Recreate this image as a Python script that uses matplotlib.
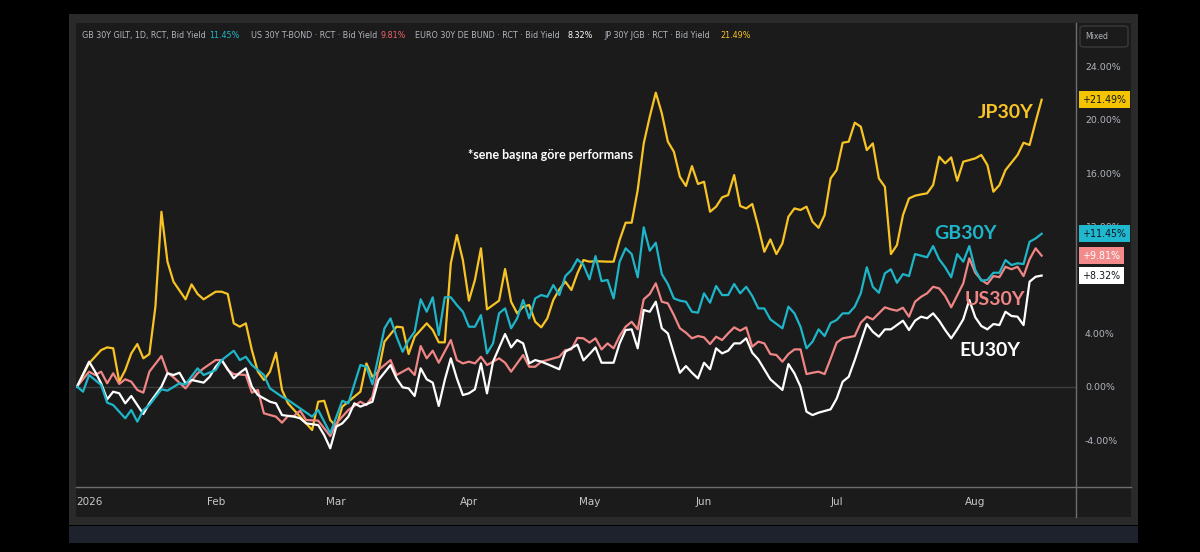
import matplotlib
matplotlib.use("Agg")
import matplotlib.pyplot as plt
import matplotlib.transforms as mtransforms
from matplotlib.patches import Rectangle, FancyBboxPatch
from matplotlib.lines import Line2D
from matplotlib import font_manager
import pandas as pd

# ---------------- data (trading-session number, % change since start) ----------------
HOLIDAYS = ['2026-01-01', '2026-04-03', '2026-04-06', '2026-05-04', '2026-05-25']
START, END = '2025-12-30', '2026-08-18'
MONTH_LABELS = ['2026', 'Feb', 'Mar', 'Apr', 'May', 'Jun', 'Jul', 'Aug']
Y_TICKS = [-4, 0, 4, 8, 12, 16, 20, 24]

JP30Y = [(0, 0.0), (2, 1.75), (4, 2.74), (5, 2.94), (6, 2.87), (7, 0.37), (8, 1.24), (9, 2.49), (10, 3.19),
         (11, 2.12), (12, 2.44), (13, 5.99), (14, 13.1), (15, 9.36), (16, 7.86), (18, 6.54), (19, 7.66),
         (20, 6.94), (21, 6.54), (23, 7.11), (24, 7.11), (25, 6.94), (26, 4.74), (27, 4.49), (28, 4.74),
         (29, 2.74), (30, 1.12), (31, 0.5), (32, 1.12), (33, 2.54), (34, -0.25), (35, -1.25), (37, -2.25),
         (38, -2.75), (39, -3.25), (40, -1.13), (41, -1.06), (42, -2.5), (43, -3.0), (44, -1.5), (46, -0.75),
         (47, -0.38), (48, 1.74), (49, 0.74), (50, 1.12), (51, 3.37), (53, 4.49), (54, 4.44), (55, 2.44),
         (56, 3.74), (58, 4.74), (59, 4.24), (60, 3.32), (61, 3.32), (62, 9.24), (63, 11.36), (64, 9.48),
         (65, 6.44), (66, 7.99), (67, 10.36), (68, 5.79), (69, 6.11), (70, 6.44), (71, 8.81), (72, 6.36),
         (73, 5.49), (74, 5.99), (75, 6.11), (76, 4.86), (77, 4.44), (78, 5.11), (79, 6.49), (80, 7.29),
         (81, 7.86), (82, 7.24), (83, 8.49), (84, 9.48), (85, 9.36), (86, 9.4), (88, 9.36), (89, 9.36),
         (90, 10.98), (91, 12.28), (92, 12.28), (93, 14.73), (94, 18.22), (95, 20.22), (96, 22.02),
         (97, 20.47), (98, 18.35), (99, 17.6), (100, 15.72), (101, 15.03), (102, 16.52), (103, 15.18),
         (104, 15.35), (105, 13.1), (106, 13.48), (107, 14.18), (108, 14.35), (109, 15.85), (110, 13.53),
         (111, 13.35), (112, 13.68), (113, 11.98), (114, 10.1), (115, 11.03), (116, 9.93), (117, 10.73),
         (118, 12.73), (119, 13.35), (120, 13.23), (121, 13.48), (122, 12.35), (123, 11.9), (124, 12.85),
         (125, 15.6), (126, 16.22), (127, 18.27), (128, 18.35), (129, 19.77), (130, 19.47), (131, 17.72),
         (132, 18.22), (133, 15.6), (134, 14.97), (135, 9.93), (136, 10.6), (137, 12.85), (138, 14.1),
         (139, 14.3), (140, 14.4), (141, 14.48), (142, 15.1), (143, 17.22), (144, 16.73), (145, 17.17),
         (146, 15.42), (147, 16.85), (148, 16.97), (149, 17.1), (150, 17.35), (151, 16.6), (152, 14.6),
         (153, 15.1), (154, 16.22), (156, 17.35), (157, 18.27), (158, 18.1), (159, 19.84), (160, 21.49)]

GB30Y = [(0, 0.0), (1, -0.38), (2, 0.87), (4, 0.12), (5, -1.2), (6, -1.38), (8, -2.37), (9, -1.75), (10, -2.62),
         (11, -1.75), (12, -1.38), (14, -0.2), (15, -0.3), (17, 0.25), (18, 0.17), (20, 1.37), (21, 0.87),
         (23, 1.24), (24, 1.99), (26, 2.69), (27, 1.99), (28, 2.24), (29, 1.62), (31, 0.87), (32, -0.13),
         (34, -0.76), (35, -1.0), (37, -1.63), (39, -2.25), (40, -1.75), (42, -3.5), (44, -1.06), (45, -1.25),
         (47, 1.62), (48, 1.49), (49, 0.17), (51, 4.37), (52, 5.11), (53, 3.74), (54, 2.61), (55, 3.49),
         (56, 4.11), (57, 6.54), (58, 5.61), (59, 6.69), (60, 3.87), (61, 6.69), (62, 6.69), (63, 6.11),
         (64, 5.61), (65, 4.49), (66, 4.49), (67, 5.36), (68, 2.49), (69, 3.24), (70, 5.49), (71, 5.86),
         (72, 4.37), (73, 5.11), (74, 6.49), (75, 5.11), (76, 6.61), (77, 6.86), (78, 6.73), (79, 7.61),
         (80, 6.86), (81, 8.28), (82, 8.73), (83, 9.54), (84, 9.11), (85, 8.04), (86, 9.78), (87, 7.9),
         (88, 7.99), (89, 6.61), (90, 9.36), (91, 10.36), (92, 9.93), (93, 8.19), (94, 11.93), (95, 10.18),
         (96, 10.78), (97, 8.43), (98, 7.69), (99, 6.61), (100, 6.44), (101, 6.36), (102, 5.61), (103, 5.54),
         (104, 6.99), (105, 6.29), (106, 7.54), (107, 6.86), (108, 6.86), (109, 7.69), (110, 6.99),
         (111, 7.48), (112, 6.79), (113, 5.86), (114, 5.86), (115, 5.04), (117, 4.37), (118, 5.99),
         (119, 5.49), (120, 4.49), (121, 2.87), (122, 3.37), (123, 4.29), (124, 3.79), (125, 4.77),
         (126, 4.99), (127, 5.49), (128, 5.49), (129, 5.99), (130, 6.99), (131, 8.94), (132, 7.48),
         (133, 7.03), (134, 8.49), (135, 8.79), (136, 7.78), (137, 8.43), (138, 8.28), (139, 9.93),
         (141, 9.69), (142, 10.53), (143, 9.54), (144, 8.94), (145, 8.19), (146, 9.93), (147, 9.36),
         (148, 10.53), (149, 8.73), (150, 7.93), (151, 8.0), (152, 8.53), (153, 8.53), (154, 9.48),
         (155, 9.11), (156, 9.24), (157, 9.18), (158, 10.85), (159, 11.1), (160, 11.45)]

US30Y = [(0, 0.0), (2, 1.12), (3, 0.87), (4, 1.12), (5, 0.25), (6, 1.0), (7, 0.2), (8, 0.55), (9, 0.37),
         (10, -0.25), (11, -0.45), (12, 1.12), (14, 2.29), (15, 1.04), (16, 0.7), (18, -0.13), (20, 1.0),
         (21, 1.37), (23, 1.99), (24, 1.99), (25, 1.24), (26, 0.94), (28, 0.87), (29, -0.45), (30, -0.25),
         (31, -2.0), (33, -2.25), (34, -2.7), (35, -2.2), (36, -2.2), (37, -1.8), (38, -2.5), (40, -2.55),
         (42, -3.7), (43, -2.75), (44, -2.25), (45, -1.75), (47, -1.13), (48, -1.38), (49, -0.76), (50, 1.24),
         (52, 1.99), (53, 0.87), (55, 1.37), (56, 0.87), (57, 3.04), (58, 2.12), (59, 2.69), (60, 1.79),
         (62, 3.49), (63, 1.99), (64, 1.74), (65, 1.87), (66, 1.74), (67, 2.24), (68, 1.62), (70, 2.12),
         (71, 1.79), (72, 1.12), (73, 1.74), (74, 2.37), (75, 1.49), (76, 1.49), (77, 1.87), (78, 1.99),
         (80, 2.24), (81, 2.74), (82, 2.79), (83, 3.65), (84, 3.62), (85, 3.3), (86, 3.62), (87, 2.79),
         (88, 3.24), (89, 2.87), (90, 3.79), (91, 4.49), (92, 4.86), (93, 4.29), (94, 6.54), (95, 6.94),
         (96, 7.74), (97, 6.36), (98, 6.24), (99, 5.36), (100, 4.37), (101, 4.04), (102, 3.62), (103, 3.79),
         (104, 3.69), (105, 3.19), (106, 3.74), (107, 3.49), (108, 3.99), (109, 4.44), (110, 4.19),
         (111, 4.44), (112, 2.99), (113, 3.37), (114, 3.24), (115, 2.44), (116, 2.37), (117, 1.87),
         (118, 2.44), (119, 2.79), (120, 2.79), (121, 0.94), (122, 1.04), (123, 1.12), (124, 0.94),
         (125, 2.1), (126, 3.3), (127, 3.62), (128, 3.7), (129, 3.79), (130, 4.79), (131, 5.24), (132, 5.04),
         (133, 5.49), (134, 5.94), (135, 5.79), (136, 5.69), (137, 5.91), (138, 5.24), (139, 6.36),
         (140, 6.73), (141, 6.99), (142, 7.48), (143, 7.36), (144, 6.79), (145, 5.94), (147, 7.74),
         (148, 9.61), (149, 8.53), (150, 7.99), (151, 7.69), (152, 8.28), (153, 8.2), (154, 8.98),
         (155, 8.79), (156, 8.98), (157, 8.28), (158, 9.54), (159, 10.36), (160, 9.81)]

EU30Y = [(0, 0.0), (2, 1.87), (3, 1.12), (4, 0.25), (5, -0.95), (6, -0.38), (7, -0.5), (8, -1.25), (9, -0.7),
         (10, -1.38), (11, -2.05), (12, -1.25), (14, 0.0), (15, 1.0), (16, 0.87), (17, 1.04), (18, 0.25),
         (19, 0.5), (21, 0.3), (22, 0.74), (23, 1.49), (24, 1.99), (26, 0.62), (27, 1.04), (28, 1.37),
         (29, 0.0), (30, -0.63), (32, -1.13), (33, -1.25), (34, -2.13), (36, -2.25), (37, -2.37), (38, -2.75),
         (40, -2.88), (41, -3.63), (42, -4.62), (43, -3.0), (44, -2.75), (45, -2.25), (46, -1.25), (47, -1.5),
         (49, -1.13), (50, 0.5), (52, 1.62), (53, 0.62), (54, -0.05), (55, -0.13), (56, -0.7), (57, 1.37),
         (58, 0.55), (59, 0.3), (60, -1.45), (61, 0.5), (62, 2.12), (63, 0.62), (64, -0.63), (65, -0.5),
         (66, -0.2), (67, 1.74), (68, -0.5), (69, 1.87), (71, 3.94), (72, 2.94), (73, 3.49), (74, 3.24),
         (75, 1.74), (76, 1.99), (77, 1.87), (78, 1.69), (80, 1.3), (81, 2.61), (83, 3.15), (84, 1.97),
         (85, 2.44), (86, 2.94), (87, 1.79), (89, 1.79), (90, 3.24), (91, 4.24), (92, 4.29), (93, 2.87),
         (94, 5.74), (95, 5.61), (96, 6.36), (97, 4.37), (98, 3.99), (99, 2.49), (100, 1.04), (101, 1.54),
         (102, 1.04), (103, 0.62), (104, 1.79), (105, 1.3), (106, 2.87), (107, 2.49), (108, 2.69), (109, 3.24),
         (110, 3.24), (111, 3.62), (112, 2.54), (113, 2.04), (114, 1.3), (115, 0.55), (117, -0.25), (118, 1.69),
         (119, 0.99), (120, 0.0), (121, -1.88), (122, -2.13), (123, -1.95), (125, -1.7), (126, -0.9),
         (127, 0.37), (128, 0.74), (129, 1.99), (131, 4.69), (132, 4.11), (133, 3.74), (134, 4.29),
         (135, 4.29), (136, 4.61), (137, 4.94), (138, 4.24), (139, 4.94), (140, 5.24), (141, 5.12),
         (142, 5.49), (143, 4.94), (144, 4.24), (145, 3.62), (146, 4.29), (147, 5.04), (148, 6.49),
         (149, 5.19), (150, 4.54), (151, 4.29), (152, 4.69), (153, 4.61), (154, 5.61), (155, 5.29),
         (156, 5.24), (157, 4.61), (158, 7.86), (159, 8.23), (160, 8.32)]

LEGEND_PARTS = [("GB 30Y GILT, 1D, RCT, Bid Yield", "11.45%"),
                ("US 30Y T-BOND · RCT · Bid Yield", "9.81%"),
                ("EURO 30Y DE BUND · RCT · Bid Yield", "8.32%"),
                ("JP 30Y JGB · RCT · Bid Yield", "21.49%")]

# ---------------- style ----------------
C_JP, C_GB, C_US, C_EU = '#f7c325', '#1fb5c9', '#f08585', '#ffffff'
TXT = '#b2b5be'
names = {f.name for f in font_manager.fontManager.ttflist}
NARROW = 'Liberation Sans Narrow' if 'Liberation Sans Narrow' in names else 'DejaVu Sans'
NSCALE = 1.0 if NARROW == 'Liberation Sans Narrow' else 0.8
BOLD = 'Lato' if 'Lato' in names else 'DejaVu Sans'

W, H = 1200, 552
fig = plt.figure(figsize=(W / 100, H / 100), dpi=100, facecolor='black')


def fx(x):
    return x / W


def fy(y):
    return 1 - y / H


def frect(x0, y0, x1, y1, color, z=-10):
    fig.patches.append(Rectangle((fx(x0), fy(y1)), fx(x1) - fx(x0), fy(y0) - fy(y1),
                                 transform=fig.transFigure, facecolor=color, edgecolor='none', zorder=z))


frect(69, 14, 1138, 525, '#2a2a2a', -12)
frect(69, 526, 1138, 543, '#1e222d', -12)
frect(76, 22.7, 1131, 517, '#1b1b1b', -11)

# session calendar
sessions = pd.bdate_range(START, END)
sessions = sessions[~sessions.isin(pd.to_datetime(HOLIDAYS))]
month_pos = []
for m in range(1, 9):
    idx = [i for i, d in enumerate(sessions) if d.year == 2026 and d.month == m]
    month_pos.append(idx[0])

ax = fig.add_axes([fx(76), fy(487.3), fx(1076) - fx(76), fy(22.7) - fy(487.3)])
ax.set_facecolor('none')
ax.set_xlim(-0.17, 165.7)
ax.set_ylim(-7.54, 27.26)
for s in ax.spines.values():
    s.set_visible(False)

ax.axhline(0, color='#3c3c3c', lw=1.0, zorder=1)

for series, col in [(JP30Y, C_JP), (US30Y, C_US), (EU30Y, C_EU), (GB30Y, C_GB)]:
    xs = [p[0] for p in series]
    ys = [p[1] for p in series]
    ax.plot(xs, ys, color=col, lw=1.6, solid_joinstyle='round', zorder=3)

ax.set_xticks(month_pos)
ax.set_xticklabels(MONTH_LABELS, color='#c8c8c8', family=NARROW, fontsize=9.3 * NSCALE)
ax.tick_params(axis='x', length=0, pad=7)
ax.yaxis.tick_right()
ax.set_yticks(Y_TICKS)
# the 8.00% label sits fully behind the last-value boxes in the reference
ax.set_yticklabels(['' if v == 8 else f'{v:.2f}%' for v in Y_TICKS], color=TXT, family=NARROW,
                   fontsize=8.4 * NSCALE)
ax.tick_params(axis='y', length=0, pad=6.5)

# separators
fig.add_artist(Line2D([fx(1076), fx(1076)], [fy(22.7), fy(517)], transform=fig.transFigure,
                      color='#6e6e6e', lw=1.0))
fig.add_artist(Line2D([fx(76), fx(1131)], [fy(487.3), fy(487.3)], transform=fig.transFigure,
                      color='#6e6e6e', lw=1.0))

# last value boxes
trans = mtransforms.blended_transform_factory(ax.transAxes, ax.transData)
for series, bg, fg in [(JP30Y, '#f5c400', '#131722'), (GB30Y, '#1fb8cf', '#131722'),
                       (US30Y, '#f28b8b', '#ffffff'), (EU30Y, '#ffffff', '#131722')]:
    v = series[-1][1]
    ax.text(1.0065, v, f'+{v:.2f}%', transform=trans, ha='left', va='center', color=fg,
            family=NARROW, fontsize=8.6 * NSCALE, clip_on=False, zorder=6,
            bbox=dict(boxstyle='square,pad=0.38', fc=bg, ec='none'))

# series name labels
ax.text(154.1, 20.56, 'JP30Y', color=C_JP, family=BOLD, fontweight='bold', fontsize=14, ha='center', va='center')
ax.text(147.3, 11.5, 'GB30Y', color=C_GB, family=BOLD, fontweight='bold', fontsize=14, ha='center', va='center')
ax.text(152.2, 6.49, 'US30Y', color=C_US, family=BOLD, fontweight='bold', fontsize=14, ha='center', va='center')
ax.text(151.4, 2.74, 'EU30Y', color=C_EU, family=BOLD, fontweight='bold', fontsize=14, ha='center', va='center')
ax.text(78.6, 17.35, '*sene başına göre performans', color='white', family=BOLD, fontweight='bold',
        fontsize=9, ha='center', va='center')

# legend line at top
val_cols = [C_GB, '#f0606a', '#ffffff', C_JP]
xs_lab = [81.5, 251, 415, 604.5]
xs_val = [209.5, 380.5, 568, 720]
for (lab, val), xl, xv, vc in zip(LEGEND_PARTS, xs_lab, xs_val, val_cols):
    fig.text(fx(xl), fy(35.5), lab, color=TXT, family=NARROW, fontsize=7.2 * NSCALE, ha='left', va='center')
    fig.text(fx(xv), fy(35.5), val, color=vc, family=NARROW, fontsize=7.2 * NSCALE, ha='left', va='center')

# "Mixed" box
fig.patches.append(FancyBboxPatch((fx(1080), fy(47)), fx(1128) - fx(1080), fy(26) - fy(47),
                                  boxstyle='round,pad=0,rounding_size=0.004', transform=fig.transFigure,
                                  facecolor='#1b1b1b', edgecolor='#3a3a3a', lw=1.0, zorder=2))
fig.text(fx(1085), fy(36.5), 'Mixed', color=TXT, family=NARROW, fontsize=7.0 * NSCALE, ha='left', va='center',
         zorder=3)

fig.savefig('out.png', dpi=100, facecolor='black')
